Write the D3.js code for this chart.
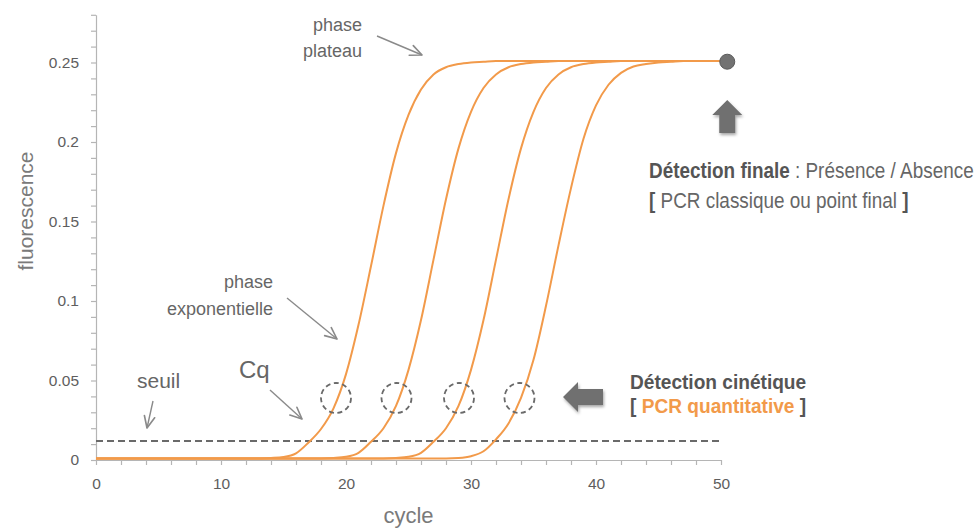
<!DOCTYPE html>
<html>
<head>
<meta charset="utf-8">
<script src="https://cdn.jsdelivr.net/npm/d3@7"></script>
<style>
  html, body { margin: 0; padding: 0; background: #fff; }
  svg { display: block; }
  text { font-family: "Liberation Sans", Arial, sans-serif; }
</style>
</head>
<body>
<svg id="chart" width="980" height="531"></svg>
<script>
// ---------------- data ----------------
const cycles = [0,1,2,3,4,5,6,7,8,9,10,11,12,13,14,15,16,17,18,19,20,21,22,23,24,25,
  26,27,28,29,30,31,32,33,34,35,36,37,38,39,40,41,42,43,44,45,46,47,48,49,50];

const curve1 = [0.001,0.001,0.001,0.001,0.001,0.001,0.001,0.001,0.001,0.001,0.001,0.001,0.001,0.001,
  0.0013,0.0019,0.0042,0.011,0.0195,0.0325,0.054,0.085,0.122,0.160,0.193,0.217,0.233,0.2425,0.247,0.249,0.250,0.2505,
  0.251,0.251,0.251,0.251,0.251,0.251,0.251,0.251,0.251,0.251,0.251,0.251,0.251,0.251,0.251,0.251,0.251,0.251,0.251];

const curve2 = [0.001,0.001,0.001,0.001,0.001,0.001,0.001,0.001,0.001,0.001,0.001,0.001,0.001,0.001,0.001,0.001,0.001,0.001,0.001,
  0.0013,0.002,0.0045,0.0115,0.020,0.034,0.0567,0.088,0.126,0.164,0.196,0.219,0.234,0.2425,0.247,0.249,0.250,0.2505,
  0.251,0.251,0.251,0.251,0.251,0.251,0.251,0.251,0.251,0.251,0.251,0.251,0.251,0.251];

const curve3 = [0.001,0.001,0.001,0.001,0.001,0.001,0.001,0.001,0.001,0.001,0.001,0.001,0.001,0.001,0.001,0.001,0.001,0.001,0.001,0.001,0.001,0.001,0.001,0.001,
  0.0013,0.002,0.0045,0.0115,0.020,0.034,0.0567,0.088,0.126,0.164,0.196,0.219,0.234,0.2425,0.247,0.249,0.250,0.2505,
  0.251,0.251,0.251,0.251,0.251,0.251,0.251,0.251,0.251];

const curve4 = [0.001,0.001,0.001,0.001,0.001,0.001,0.001,0.001,0.001,0.001,0.001,0.001,0.001,0.001,0.001,0.001,0.001,0.001,0.001,0.001,0.001,0.001,0.001,0.001,0.001,0.001,0.001,0.001,0.001,
  0.0013,0.0024,0.0055,0.013,0.023,0.039,0.063,0.097,0.135,0.171,0.202,0.223,0.236,0.2435,0.2475,0.249,0.250,0.2505,
  0.251,0.251,0.251,0.251];

const series = [curve1, curve2, curve3, curve4];

const threshold = 0.012;                 // seuil
const cqCycles = [19.2, 24.04, 29.04, 33.88]; // dashed circles (Cq)
const cqValue = 0.039;
const endPoint = { cycle: 50.5, value: 0.2505 };

const xTicks = [0,2,4,6,8,10,12,14,16,18,20,22,24,26,28,30,32,34,36,38,40,42,44,46,48,50];
const xTickLabels = { 0: "0", 10: "10", 20: "20", 30: "30", 40: "40", 50: "50" };
const yTicks = [0,0.01,0.02,0.03,0.04,0.05,0.06,0.07,0.08,0.09,0.10,0.11,0.12,0.13,0.14,
  0.15,0.16,0.17,0.18,0.19,0.20,0.21,0.22,0.23,0.24,0.25,0.26,0.27,0.28];
const yTickLabels = { "0": "0", "0.05": "0.05", "0.1": "0.1", "0.15": "0.15", "0.2": "0.2", "0.25": "0.25" };

// ---------------- drawing ----------------
const ORANGE = "#F29A4A";
const svg = d3.select("#chart");

const x = d3.scaleLinear().domain([0, 50]).range([96, 721]);
const y = d3.scaleLinear().domain([0, 0.28]).range([460, 14.8]);

const defs = svg.append("defs");
defs.append("marker")
  .attr("id", "open-arrow")
  .attr("markerUnits", "userSpaceOnUse")
  .attr("markerWidth", 14).attr("markerHeight", 14)
  .attr("viewBox", "0 0 12 12")
  .attr("refX", 11).attr("refY", 6)
  .attr("orient", "auto")
  .append("path")
  .attr("d", "M1,1.5 L11,6 L1,10.5")
  .attr("fill", "none").attr("stroke", "#8a8a8a").attr("stroke-width", 1.4)
  .attr("stroke-linecap", "round").attr("stroke-linejoin", "round");

const shadow = defs.append("filter").attr("id", "shadow")
  .attr("x", "-30%").attr("y", "-30%").attr("width", "160%").attr("height", "160%");
shadow.append("feDropShadow").attr("dx", 1).attr("dy", 2).attr("stdDeviation", 1.5)
  .attr("flood-color", "#000").attr("flood-opacity", 0.35);

// axes
const xAxis = d3.axisBottom(x).tickValues(xTicks).tickSize(5).tickSizeOuter(0).tickPadding(13)
  .tickFormat(d => xTickLabels[d] !== undefined ? xTickLabels[d] : "");
const gx = svg.append("g").attr("transform", `translate(0,${y(0)})`).call(xAxis);

const yAxis = d3.axisLeft(y).tickValues(yTicks).tickSize(5).tickSizeOuter(0).tickPadding(12)
  .tickFormat(d => { const k = String(+d.toFixed(2)); return yTickLabels[k] !== undefined ? yTickLabels[k] : ""; });
const gy = svg.append("g").attr("transform", `translate(${x(0)},0)`).call(yAxis);

[gx, gy].forEach(g => {
  g.select(".domain").attr("stroke", "#b5b5b5").attr("stroke-width", 1.2);
  g.selectAll(".tick line").attr("stroke", "#b5b5b5").attr("stroke-width", 1.2);
  g.selectAll(".tick text").attr("fill", "#5e5e5e").style("font-size", "15.5px")
    .style("font-family", '"Liberation Sans", Arial, sans-serif');
});

// axis titles
svg.append("text").attr("x", x(25)).attr("y", 523).attr("text-anchor", "middle")
  .attr("fill", "#7a7a7a").style("font-size", "22px").text("cycle");
svg.append("text").attr("transform", "translate(33,211) rotate(-90)").attr("text-anchor", "middle")
  .attr("fill", "#7a7a7a").style("font-size", "21px").text("fluorescence");

// threshold line
svg.append("line")
  .attr("x1", x(0)).attr("x2", x(50)).attr("y1", y(threshold)).attr("y2", y(threshold))
  .attr("stroke", "#6a6a6a").attr("stroke-width", 2).attr("stroke-dasharray", "7,4");

// curves
const line = d3.line().x((d, i) => x(cycles[i])).y(d => y(d)).curve(d3.curveMonotoneX);
svg.append("g").selectAll("path").data(series).join("path")
  .attr("d", d => line(d))
  .attr("fill", "none").attr("stroke", ORANGE).attr("stroke-width", 2);

// Cq circles
svg.append("g").selectAll("circle").data(cqCycles).join("circle")
  .attr("cx", d => x(d)).attr("cy", y(cqValue)).attr("r", 15)
  .attr("fill", "none").attr("stroke", "#6a6a6a").attr("stroke-width", 1.8)
  .attr("stroke-dasharray", "5,3.5");

// end point
svg.append("circle").attr("cx", x(endPoint.cycle)).attr("cy", y(endPoint.value)).attr("r", 7.5)
  .attr("fill", "#727272").attr("stroke", "#5a5a5a").attr("stroke-width", 1);

// block arrows
svg.append("path")
  .attr("d", "M563,397 L578,382 L578,389 L603,389 L603,405 L578,405 L578,412 Z")
  .attr("fill", "#707070").attr("filter", "url(#shadow)");
const ux = x(endPoint.cycle);
svg.append("path")
  .attr("d", `M${ux},100 L${ux+15},115 L${ux+8},115 L${ux+8},133 L${ux-8},133 L${ux-8},115 L${ux-15},115 Z`)
  .attr("fill", "#707070").attr("filter", "url(#shadow)");

// thin annotation arrows
const arrows = [
  [377, 36, 422, 55],
  [287, 298, 337, 339],
  [270, 390, 302, 419],
  [153, 401, 147, 428]
];
svg.append("g").selectAll("line").data(arrows).join("line")
  .attr("x1", d => d[0]).attr("y1", d => d[1]).attr("x2", d => d[2]).attr("y2", d => d[3])
  .attr("stroke", "#8a8a8a").attr("stroke-width", 1.4).attr("marker-end", "url(#open-arrow)");

// annotation texts
function txt(xp, yp, s, size, anchor, fill, weight) {
  return svg.append("text").attr("x", xp).attr("y", yp).attr("text-anchor", anchor || "start")
    .attr("fill", fill || "#666").style("font-size", size + "px").style("font-weight", weight || "normal").text(s);
}
txt(362, 31, "phase", 18, "end");
txt(362, 57, "plateau", 18, "end");
txt(273, 288, "phase", 18, "end");
txt(273, 315, "exponentielle", 18, "end");
txt(137, 388, "seuil", 21, "start");
txt(239, 378, "Cq", 24, "start");

// condensed-looking right-hand annotations (scaled horizontally)
const t1 = svg.append("text").attr("transform", "translate(630,389) scale(0.91,1)").style("font-size", "21px");
t1.append("tspan").attr("fill", "#555").style("font-weight", "bold").text("Détection cinétique");
const t2 = svg.append("text").attr("transform", "translate(630,413) scale(0.91,1)").style("font-size", "21px");
t2.append("tspan").attr("fill", "#555").style("font-weight", "bold").text("[ ");
t2.append("tspan").attr("fill", ORANGE).style("font-weight", "bold").text("PCR quantitative");
t2.append("tspan").attr("fill", "#555").style("font-weight", "bold").text(" ]");

const t3 = svg.append("text").attr("transform", "translate(649,178) scale(0.86,1)").style("font-size", "22px");
t3.append("tspan").attr("fill", "#555").style("font-weight", "bold").text("Détection finale");
t3.append("tspan").attr("fill", "#666").text(" : Présence / Absence");
const t4 = svg.append("text").attr("transform", "translate(649,208) scale(0.86,1)").style("font-size", "22px");
t4.append("tspan").attr("fill", "#555").style("font-weight", "bold").text("[");
t4.append("tspan").attr("fill", "#666").text(" PCR classique ou point final ");
t4.append("tspan").attr("fill", "#555").style("font-weight", "bold").text("]");
</script>
</body>
</html>
